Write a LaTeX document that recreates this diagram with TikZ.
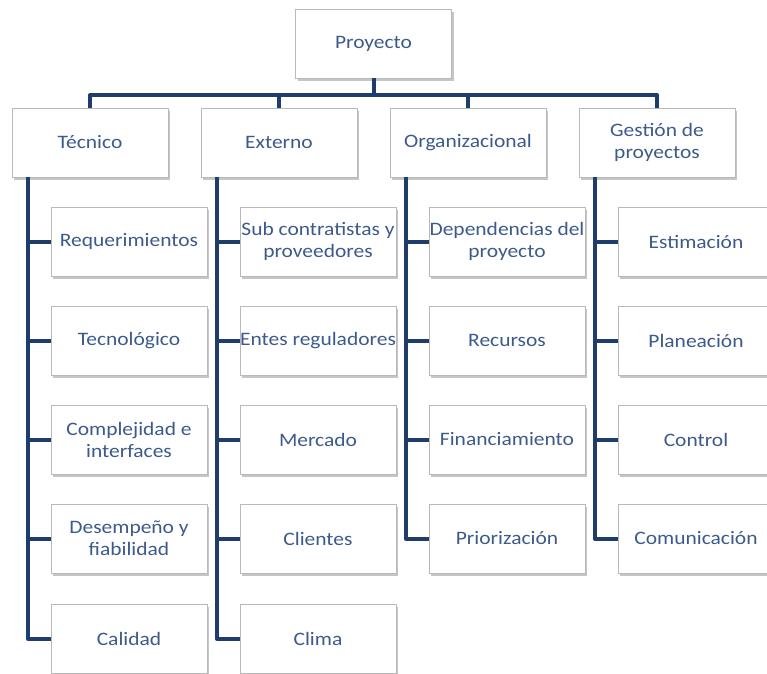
\documentclass[tikz,border=0pt]{standalone}
\usepackage{fontspec}
\setmainfont{Carlito}[FakeStretch=1.13]
\usetikzlibrary{shadows}
\definecolor{linea}{HTML}{1F3D6B}
\definecolor{texto}{HTML}{3C5A8C}

\begin{document}
\begin{tikzpicture}[x=1pt, y=-1pt,
  caja/.style = {draw=gray!55, line width=0.8pt, fill=white,
                 minimum width=156pt, minimum height=69pt, inner xsep=0pt,
                 align=center, text=texto, font=\fontsize{19}{22}\selectfont,
                 drop shadow={shadow xshift=2pt, shadow yshift=-2.5pt,
                              fill=black!45, opacity=0.5}},
  conn/.style = {draw=linea, line width=4pt, line join=round}
]
  \useasboundingbox (0,0) rectangle (767,673);
  \clip (0,0) rectangle (767,673);

  %% root and first level
  \node[caja] (root) at (373.5,43.5) {Proyecto};
  \node[caja] (tec) at (90,142.5)  {Técnico};
  \node[caja] (ext) at (279,142.5) {Externo};
  \node[caja] (org) at (468,142.5) {Organizacional};
  \node[caja] (ges) at (657,142.5) {Gestión de\\proyectos};

  %% Tecnico
  \node[caja] (tec1) at (129,241.5) {Requerimientos};
  \node[caja] (tec2) at (129,340.5) {Tecnológico};
  \node[caja] (tec3) at (129,439.5) {Complejidad e\\interfaces};
  \node[caja] (tec4) at (129,538.5) {Desempeño y\\fiabilidad};
  \node[caja] (tec5) at (129,638.5) {Calidad};

  %% Externo
  \node[caja] (ext1) at (318,241.5) {Sub contratistas y\\proveedores};
  \node[caja] (ext2) at (318,340.5) {Entes reguladores};
  \node[caja] (ext3) at (318,439.5) {Mercado};
  \node[caja] (ext4) at (318,538.5) {Clientes};
  \node[caja] (ext5) at (318,638.5) {Clima};

  %% Organizacional
  \node[caja] (org1) at (507,241.5) {Dependencias del\\proyecto};
  \node[caja] (org2) at (507,340.5) {Recursos};
  \node[caja] (org3) at (507,439.5) {Financiamiento};
  \node[caja] (org4) at (507,538.5) {Priorización};

  %% Gestion de proyectos
  \node[caja] (ges1) at (696,241.5) {Estimación};
  \node[caja] (ges2) at (696,340.5) {Planeación};
  \node[caja] (ges3) at (696,439.5) {Control};
  \node[caja] (ges4) at (696,538.5) {Comunicación};

  %% top bar
  \coordinate (barra) at (0,95);
  \draw[conn] (root.south) -- (root.south |- barra);
  \draw[conn] (tec.north) -- (tec.north |- barra) -- (ges.north |- barra) -- (ges.north);
  \draw[conn] (ext.north) -- (ext.north |- barra);
  \draw[conn] (org.north) -- (org.north |- barra);

  %% spines
  \coordinate (tecS) at ([xshift=16pt]tec.south west);
  \coordinate (extS) at ([xshift=16pt]ext.south west);
  \coordinate (orgS) at ([xshift=16pt]org.south west);
  \coordinate (gesS) at ([xshift=16pt]ges.south west);

  \draw[conn] (tecS) |- (tec5.west);
  \foreach \i in {1,...,4} \draw[conn] (tec\i.west) -- (tec\i.west -| tecS);
  \draw[conn] (extS) |- (ext5.west);
  \foreach \i in {1,...,4} \draw[conn] (ext\i.west) -- (ext\i.west -| extS);
  \draw[conn] (orgS) |- (org4.west);
  \foreach \i in {1,...,3} \draw[conn] (org\i.west) -- (org\i.west -| orgS);
  \draw[conn] (gesS) |- (ges4.west);
  \foreach \i in {1,...,3} \draw[conn] (ges\i.west) -- (ges\i.west -| gesS);
\end{tikzpicture}
\end{document}
